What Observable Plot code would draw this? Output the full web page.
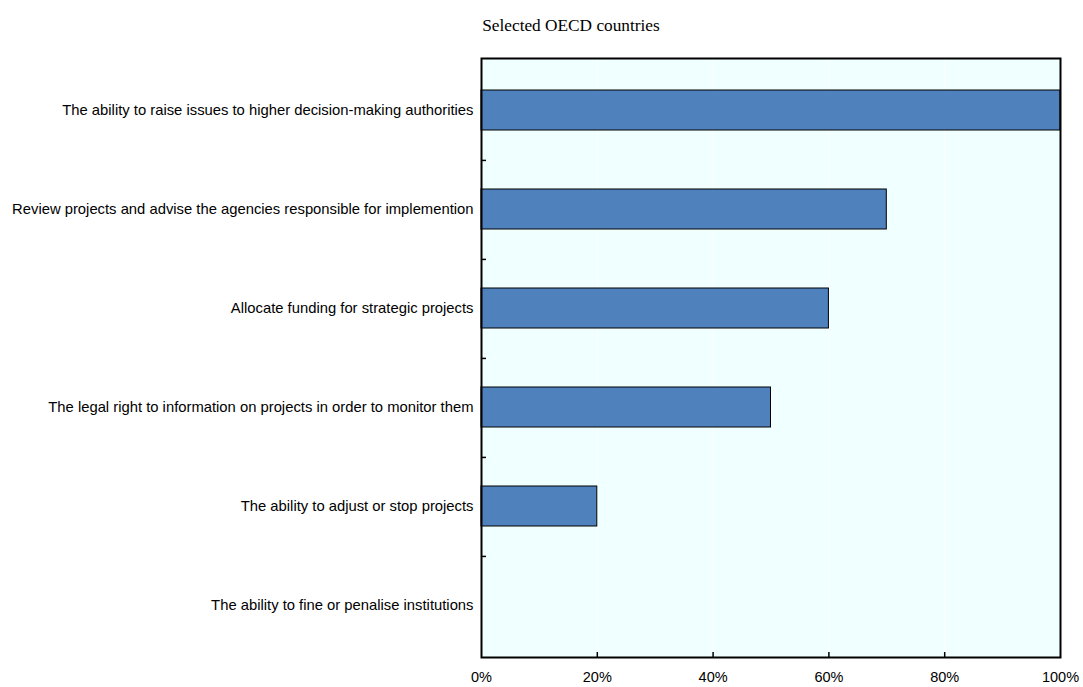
<!DOCTYPE html>
<html>
<head>
<meta charset="utf-8">
<script src="https://cdn.jsdelivr.net/npm/d3@7"></script>
<script src="https://cdn.jsdelivr.net/npm/@observablehq/plot@0.6"></script>
<style>
  html, body { margin: 0; padding: 0; background: #fff; overflow: hidden; }
  #wrap { position: relative; width: 1083px; height: 687px; }
  #title { position: absolute; top: 16px; left: 271px; width: 600px; text-align: center;
           font-family: "Liberation Serif", "Times New Roman", serif; font-size: 17.3px; color: #000; line-height: 20px; }
  #chart { position: absolute; top: 44px; left: 0; }
</style>
</head>
<body>
<div id="wrap">
  <div id="title">Selected OECD countries</div>
  <div id="chart"></div>
</div>
<script>
const categories = [
  "The ability to raise issues to higher decision-making authorities",
  "Review projects and advise the agencies responsible for implemention",
  "Allocate funding for strategic projects",
  "The legal right to information on projects in order to monitor them",
  "The ability to adjust or stop projects",
  "The ability to fine or penalise institutions"
];
const values = [1.00, 0.70, 0.60, 0.50, 0.20, 0.00];
const xTicks = [0, 0.2, 0.4, 0.6, 0.8, 1.0];
const gridTicks = [0.2, 0.4, 0.6, 0.8];

const data = categories.map((c, i) => ({category: c, value: values[i]}));

const W = 1083, H = 643;
const mL = 481, mR = 23, mT = 14, mB = 30;
const plotW = W - mL - mR, plotH = H - mT - mB;
const step = plotH / categories.length;

const chart = Plot.plot({
  width: W,
  height: H,
  marginLeft: mL,
  marginRight: mR,
  marginTop: mT,
  marginBottom: mB,
  style: {fontFamily: "'Liberation Sans', Arial, sans-serif", fontSize: "14.8px", color: "#000", background: "#fff"},
  x: {domain: [0, 1], ticks: xTicks, tickFormat: d3.format(".0%"), label: null},
  y: {domain: categories, paddingInner: 0.6, paddingOuter: 0.3, align: 0.5, label: null},
  marks: [
    Plot.frame({fill: "#F0FFFF", stroke: null}),
    Plot.gridX(gridTicks, {stroke: "#fff", strokeOpacity: 1, strokeWidth: 1}),
    Plot.barX(data, {y: "category", x: "value", fill: "#4F81BD", stroke: "#000", strokeWidth: 1}),
    Plot.tickY(categories.slice(0, categories.length - 1), {y: d => d, dy: step / 2, stroke: "#000", strokeWidth: 1.5, insetRight: plotW - 5}),
    Plot.tickX(gridTicks, {x: d => d, stroke: "#000", strokeWidth: 1.5, insetTop: plotH - 5}),
    Plot.axisX({ticks: xTicks, tickFormat: d3.format(".0%"), tickSize: 0, tickPadding: 14, fontSize: 14.5, label: null}),
    Plot.axisY({tickSize: 0, tickPadding: 8, fontSize: 14.8, label: null}),
    Plot.frame({stroke: "#000", strokeWidth: 2})
  ]
});
document.getElementById("chart").appendChild(chart);
</script>
</body>
</html>
